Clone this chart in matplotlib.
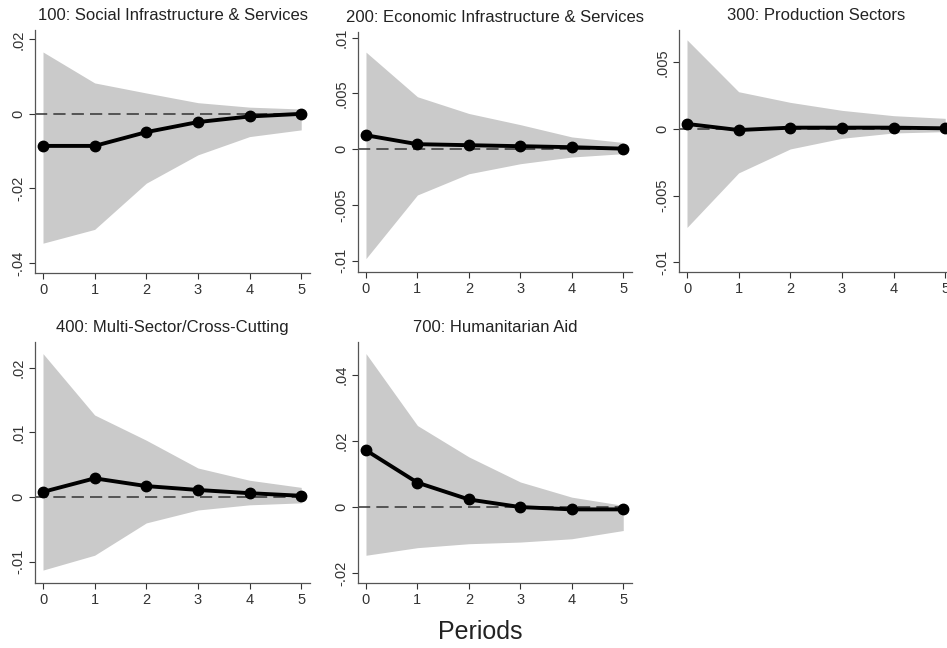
import matplotlib.pyplot as plt
import numpy as np

plt.rcParams['font.family'] = ['Liberation Sans', 'DejaVu Sans']

# periods of the impulse response
periods = [0, 1, 2, 3, 4, 5]

titles = ['100: Social Infrastructure & Services',
          '200: Economic Infrastructure & Services',
          '300: Production Sectors',
          '400: Multi-Sector/Cross-Cutting',
          '700: Humanitarian Aid']

# impulse responses (point estimate)
irf_100 = [-0.0086, -0.0086, -0.0049, -0.0022, -0.0007, 0.0000]
irf_200 = [0.00125, 0.00045, 0.00036, 0.00027, 0.00018, 0.00005]
irf_300 = [0.00038, -0.00008, 0.00010, 0.00010, 0.00010, 0.00005]
irf_400 = [0.0008, 0.0029, 0.0017, 0.0011, 0.0006, 0.0002]
irf_700 = [0.0172, 0.0074, 0.0023, 0.0000, -0.0007, -0.0007]

# upper confidence bound
up_100 = [0.0166, 0.0083, 0.0056, 0.0030, 0.0018, 0.0013]
up_200 = [0.0087, 0.0047, 0.0032, 0.0022, 0.0011, 0.0006]
up_300 = [0.0067, 0.0028, 0.0020, 0.0014, 0.0010, 0.0008]
up_400 = [0.0222, 0.0127, 0.0088, 0.0045, 0.0026, 0.0015]
up_700 = [0.0465, 0.0247, 0.0152, 0.0076, 0.0030, 0.0005]

# lower confidence bound
lo_100 = [-0.0347, -0.0310, -0.0186, -0.0110, -0.0061, -0.0043]
lo_200 = [-0.0098, -0.0041, -0.0022, -0.0013, -0.0007, -0.0004]
lo_300 = [-0.0074, -0.0033, -0.0015, -0.0007, -0.0003, -0.0002]
lo_400 = [-0.0113, -0.0090, -0.0040, -0.0020, -0.0012, -0.0009]
lo_700 = [-0.0146, -0.0123, -0.0111, -0.0106, -0.0096, -0.0071]

# y ticks per panel
yticks_100 = [-0.04, -0.02, 0, 0.02]
yticks_200 = [-0.01, -0.005, 0, 0.005, 0.01]
yticks_300 = [-0.01, -0.005, 0, 0.005]
yticks_400 = [-0.01, 0, 0.01, 0.02]
yticks_700 = [-0.02, 0, 0.02, 0.04]

irfs = [irf_100, irf_200, irf_300, irf_400, irf_700]
ups = [up_100, up_200, up_300, up_400, up_700]
los = [lo_100, lo_200, lo_300, lo_400, lo_700]
yticks = [yticks_100, yticks_200, yticks_300, yticks_400, yticks_700]

# axes boxes in pixels: left, right, top, bottom
W, H = 947, 648
boxes = [(35, 310, 30, 273), (358, 632, 32, 272), (679, 954, 30, 272),
         (35, 310, 342, 583), (358, 632, 342, 583)]
ylims = [(-0.0427, 0.0225), (-0.011, 0.0105), (-0.01075, 0.00744),
         (-0.0133, 0.024), (-0.023, 0.05)]


def stata_fmt(v):
    if v == 0:
        return '0'
    return ('%g' % v).replace('0.', '.', 1)


fig = plt.figure(figsize=(W / 100, H / 100), dpi=100)
fig.patch.set_facecolor('white')

for i in range(5):
    l, r, t, b = boxes[i]
    ax = fig.add_axes([l / W, 1 - b / H, (r - l) / W, (b - t) / H])
    ax.fill_between(periods, los[i], ups[i], color='#cacaca', lw=0, zorder=1)
    ax.axhline(0, color='#333333', lw=1.1, dashes=(8, 4), zorder=2)
    ax.plot(periods, irfs[i], color='black', lw=2.8, marker='o', ms=7.5, zorder=3)
    ax.set_xlim(-0.155, 5.17)
    ax.set_ylim(*ylims[i])
    ax.set_xticks(periods)
    ax.set_yticks(yticks[i])
    ax.set_yticklabels([stata_fmt(v) for v in yticks[i]], rotation=90, va='center')
    ax.tick_params(labelsize=10.5, colors='#333333', length=4, width=0.8, pad=3)
    for s in ['top', 'right']:
        ax.spines[s].set_visible(False)
    for s in ['left', 'bottom']:
        ax.spines[s].set_color('#555555')
        ax.spines[s].set_linewidth(0.9)
    ax.set_title(titles[i], fontsize=12, color='#222222', pad=7)

fig.text(480 / W, 1 - 632 / H, 'Periods', fontsize=18, ha='center', va='center',
         color='#222222')

plt.savefig('out.png', dpi=100)
